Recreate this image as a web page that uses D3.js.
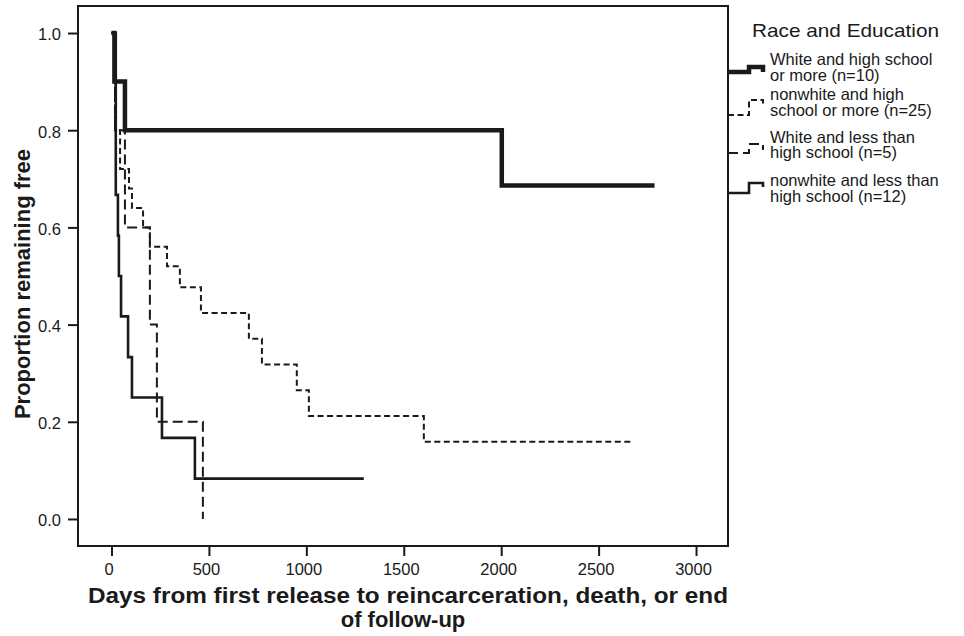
<!DOCTYPE html>
<html>
<head>
<meta charset="utf-8">
<script src="https://cdn.jsdelivr.net/npm/d3@7"></script>
<style>
  body { margin: 0; background: #fff; }
  svg { display: block; }
</style>
</head>
<body>
<svg id="chart" width="964" height="636"></svg>
<script>
// ---- data ----
const seriesNames = [
  ["White and high school", "or more (n=10)"],
  ["nonwhite and high", "school or more (n=25)"],
  ["White and less than", "high school (n=5)"],
  ["nonwhite and less than", "high school (n=12)"]
];
const whiteHsDays   = [0, 15, 69, 2003, 2787];
const whiteHsSurv   = [1, 0.9, 0.8, 0.686, 0.686];
const nonwhiteHsDays = [0, 18, 44, 90, 105, 162, 197, 285, 351, 459, 705, 772, 951, 1013, 1603, 2669];
const nonwhiteHsSurv = [1, 0.80, 0.72, 0.68, 0.64, 0.60, 0.56, 0.52, 0.477, 0.424, 0.371, 0.318, 0.265, 0.212, 0.159, 0.159];
const whiteLtDays   = [0, 18, 69, 197, 233, 469];
const whiteLtSurv   = [1, 0.8, 0.6, 0.4, 0.2, 0];
const nonwhiteLtDays = [0, 22, 33, 38, 49, 85, 105, 259, 428, 1295];
const nonwhiteLtSurv = [1, 0.667, 0.583, 0.5, 0.417, 0.333, 0.25, 0.167, 0.083, 0.083];
const xTicks = [0, 500, 1000, 1500, 2000, 2500, 3000];
const yTicks = [0.0, 0.2, 0.4, 0.6, 0.8, 1.0];

// ---- layout ----
(function () {
const svg = d3.select("#chart");
const pL = 78, pR = 728, pT = 6, pB = 546;
const x = d3.scaleLinear().domain([-171.9, 3164]).range([pL, pR]);
const y = d3.scaleLinear().domain([-0.0556, 1.0556]).range([pB, pT]);
const ink = "#1a1a1a";
const font = "Liberation Sans, Arial, sans-serif";

const styles = [
  { w: 4.5, dash: null },
  { w: 2,   dash: "6,3.5" },
  { w: 2,   dash: "10,5" },
  { w: 2.6, dash: null }
];
const series = [
  { days: whiteHsDays, surv: whiteHsSurv },
  { days: nonwhiteHsDays, surv: nonwhiteHsSurv },
  { days: whiteLtDays, surv: whiteLtSurv },
  { days: nonwhiteLtDays, surv: nonwhiteLtSurv }
];

// axes
const xAxis = d3.axisBottom(x).tickValues(xTicks).tickSize(10).tickSizeOuter(0).tickFormat(d3.format("d"));
const gx = svg.append("g").attr("transform", `translate(0,${pB})`).call(xAxis);
gx.select(".domain").remove();
gx.selectAll(".tick line").attr("stroke", ink).attr("stroke-width", 2);
gx.selectAll(".tick text").attr("fill", ink).attr("font-family", font)
  .attr("font-size", 16.5).attr("dy", "0.97em").attr("dx", -3);

const yAxis = d3.axisLeft(y).tickValues(yTicks).tickSize(10).tickSizeOuter(0).tickFormat(d3.format(".1f"));
const gy = svg.append("g").attr("transform", `translate(${pL},0)`).call(yAxis);
gy.select(".domain").remove();
gy.selectAll(".tick line").attr("stroke", ink).attr("stroke-width", 2);
gy.selectAll(".tick text").attr("fill", ink).attr("font-family", font)
  .attr("font-size", 16.5).attr("dx", -4).attr("dy", "0.42em");

// lines
const line = d3.line().x(d => x(d[0])).y(d => y(d[1])).curve(d3.curveStepAfter);
const order = [2, 1, 3, 0];
order.forEach(i => {
  const s = series[i];
  const pts = s.days.map((d, k) => [d, s.surv[k]]);
  svg.append("path").datum(pts).attr("d", line)
    .attr("fill", "none").attr("stroke", ink)
    .attr("stroke-width", styles[i].w)
    .attr("stroke-dasharray", styles[i].dash)
    .attr("stroke-linejoin", "miter");
});

// frame
svg.append("rect").attr("x", pL).attr("y", pT).attr("width", pR - pL).attr("height", pB - pT)
  .attr("fill", "none").attr("stroke", ink).attr("stroke-width", 2);

// axis titles
svg.append("text").attr("transform", `translate(30,284) rotate(-90)`)
  .attr("text-anchor", "middle").attr("font-family", font)
  .attr("font-weight", "bold").attr("font-size", 22).attr("fill", ink)
  .text("Proportion remaining free");
svg.append("text").attr("text-anchor", "middle").attr("font-family", font)
  .attr("font-weight", "bold").attr("font-size", 22).attr("fill", ink)
  .attr("x", 408).attr("y", 603)
  .attr("textLength", 640).attr("lengthAdjust", "spacingAndGlyphs")
  .text("Days from first release to reincarceration, death, or end");
svg.append("text").attr("text-anchor", "middle").attr("font-family", font)
  .attr("font-weight", "bold").attr("font-size", 22).attr("fill", ink)
  .attr("x", 403).attr("y", 627)
  .text("of follow-up");

// legend
svg.append("text").attr("x", 752).attr("y", 37).attr("font-family", font)
  .attr("font-size", 18.5).attr("fill", ink)
  .attr("textLength", 187).attr("lengthAdjust", "spacingAndGlyphs")
  .text("Race and Education");
const legY = [72, 115, 153, 193];
const legHigh = [67, 100, 144, 183];
const legEnd = [72, 107, 150, 187];
seriesNames.forEach((lines, i) => {
  const ly = legY[i], hy = legHigh[i], ey = legEnd[i];
  const p = d3.path();
  p.moveTo(pR, ly); p.lineTo(749, ly); p.lineTo(749, hy); p.lineTo(763, hy); p.lineTo(763, ey);
  svg.append("path").attr("d", p.toString()).attr("fill", "none").attr("stroke", ink)
    .attr("stroke-width", styles[i].w).attr("stroke-dasharray", styles[i].dash);
  const t = svg.append("text").attr("font-family", font)
    .attr("font-size", 16.5).attr("fill", ink);
  t.append("tspan").attr("x", 770).attr("y", [65, 100, 143, 186][i]).text(lines[0]);
  t.append("tspan").attr("x", 770).attr("y", [81, 116, 158, 202][i]).text(lines[1]);
});
})();
</script>
</body>
</html>
